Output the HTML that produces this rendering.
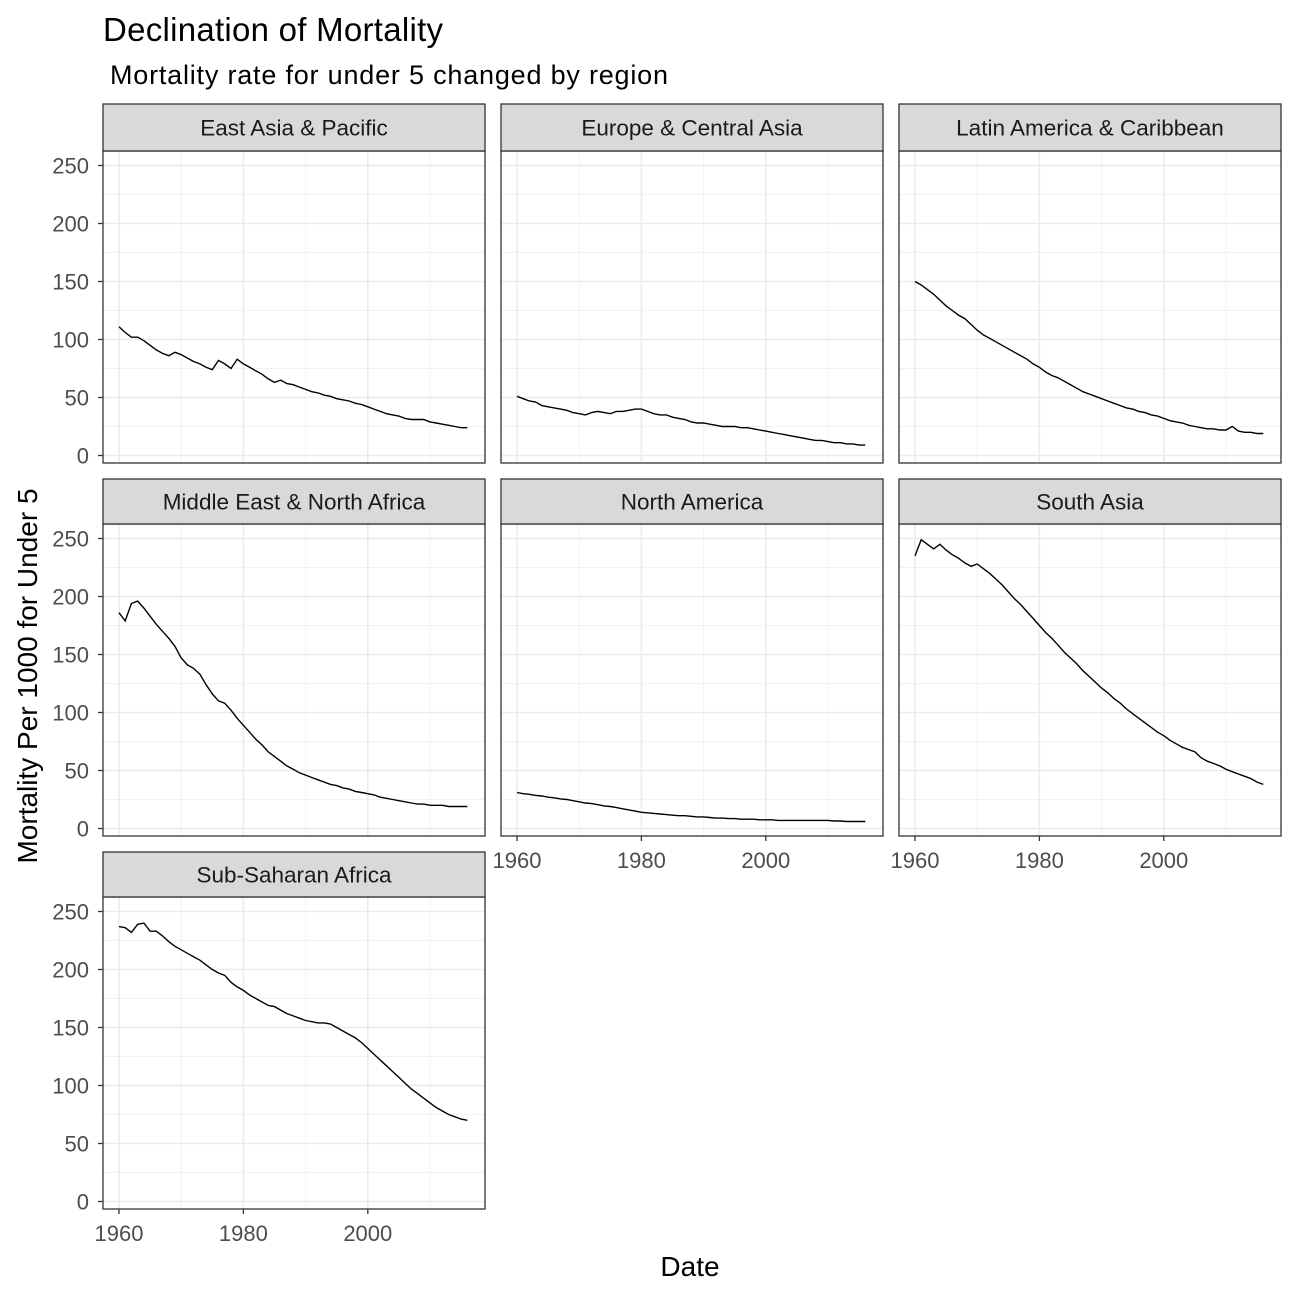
<!DOCTYPE html>
<html><head><meta charset="utf-8"><style>
body{margin:0;background:#fff;}
svg{display:block;font-family:"Liberation Sans",Arial,sans-serif;}
</style></head><body>
<svg id="chart" width="1296" height="1296" viewBox="0 0 1296 1296">
<rect width="1296" height="1296" fill="#fff"/>
<text x="103" y="41" font-size="33" textLength="340" fill="#000">Declination of Mortality</text>
<text x="110" y="84" font-size="27" textLength="558" fill="#000">Mortality rate for under 5 changed by region</text>
<text x="690" y="1276" font-size="28" text-anchor="middle" fill="#000">Date</text>
<text transform="translate(37,676) rotate(-90)" font-size="28" text-anchor="middle" fill="#000">Mortality Per 1000 for Under 5</text>
<g id="panels"></g>
</svg>
<script>
const regions = ["East Asia & Pacific","Europe & Central Asia","Latin America & Caribbean","Middle East & North Africa","North America","South Asia","Sub-Saharan Africa"];
const startYear = 1960;
const yTicks = [0,50,100,150,200,250];
const xTicks = [1960,1980,2000];
const eastAsia = [111,106,102,102,99,95,91,88,86,89,87,84,81,79,76,74,82,79,75,83,79,76,73,70,66,63,65,62,61,59,57,55,54,52,51,49,48,47,45,44,42,40,38,36,35,34,32,31,31,31,29,28,27,26,25,24,24];
const europe = [51,49,47,46,43,42,41,40,39,37,36,35,37,38,37,36,38,38,39,40,40,38,36,35,35,33,32,31,29,28,28,27,26,25,25,25,24,24,23,22,21,20,19,18,17,16,15,14,13,13,12,11,11,10,10,9,9];
const latin = [150,147,143,139,134,129,125,121,118,113,108,104,101,98,95,92,89,86,83,79,76,72,69,67,64,61,58,55,53,51,49,47,45,43,41,40,38,37,35,34,32,30,29,28,26,25,24,23,23,22,22,25,21,20,20,19,19];
const mena = [186,179,194,196,190,183,176,170,164,157,147,141,138,133,124,116,110,108,102,95,89,83,77,72,66,62,58,54,51,48,46,44,42,40,38,37,35,34,32,31,30,29,27,26,25,24,23,22,21,21,20,20,20,19,19,19,19];
const northAmerica = [31,30,29.5,28.5,28,27,26.5,25.5,25,24,23,22,21.5,20.5,19.5,19,18,17,16,15,14,13.5,13,12.5,12,11.5,11,11,10.5,10,10,9.5,9,9,8.5,8.5,8,8,8,7.5,7.5,7.5,7,7,7,7,7,7,7,7,7,6.5,6.5,6,6,6,6];
const southAsia = [235,249,245,241,245,240,236,233,229,226,228,224,220,215,210,204,198,193,187,181,175,169,164,158,152,147,142,136,131,126,121,117,112,108,103,99,95,91,87,83,80,76,73,70,68,66,61,58,56,54,51,49,47,45,43,40,38];
const ssa = [237,236,232,239,240,233,233,229,224,220,217,214,211,208,204,200,197,195,189,185,182,178,175,172,169,168,165,162,160,158,156,155,154,154,153,150,147,144,141,137,132,127,122,117,112,107,102,97,93,89,85,81,78,75,73,71,70];
const series = [eastAsia,europe,latin,mena,northAmerica,southAsia,ssa];

const NS="http://www.w3.org/2000/svg";
const root=document.getElementById('panels');
const colX=[103,501,899], pw=382;
const rows=[{st:104,pt:151,pb:463},{st:479,pt:524,pb:836},{st:852,pt:897,pb:1209}];
function mk(tag,attrs,parent){const e=document.createElementNS(NS,tag);for(const k in attrs)e.setAttribute(k,attrs[k]);(parent||root).appendChild(e);return e;}
function slug(s){return s.toLowerCase().replace(/&/g,'and').replace(/[^a-z0-9]+/g,'-');}

regions.forEach((name,i)=>{
  const c=i%3, r=Math.floor(i/3);
  const x0=colX[c], row=rows[r];
  const xs=yr=>x0+16+(yr-1960)*6.22;
  const zeroY=row.pb-7.5;
  const ys=v=>zeroY-v*1.16;
  const g=mk('g',{});
  
  
  mk('rect',{x:x0,y:row.pt,width:pw,height:row.pb-row.pt,fill:'#fff'},g);
  for(let v=25;v<=275;v+=50){const y=ys(v);if(y>row.pt)mk('line',{x1:x0,x2:x0+pw,y1:y,y2:y,stroke:'#f2f2f2','stroke-width':0.9},g);}
  [1970,1990,2010].forEach(t=>mk('line',{x1:xs(t),x2:xs(t),y1:row.pt,y2:row.pb,stroke:'#f2f2f2','stroke-width':0.9},g));
  yTicks.forEach(v=>mk('line',{x1:x0,x2:x0+pw,y1:ys(v),y2:ys(v),stroke:'#ebebeb','stroke-width':1.6},g));
  xTicks.forEach(t=>mk('line',{x1:xs(t),x2:xs(t),y1:row.pt,y2:row.pb,stroke:'#ebebeb','stroke-width':1.6},g));
  const d=series[i].map((v,k)=>(k?'L':'M')+xs(startYear+k).toFixed(1)+','+ys(v).toFixed(1)).join('');
  const p=mk('path',{d:d,fill:'none',stroke:'#000','stroke-width':1.4},g);
  
  
  mk('rect',{x:x0,y:row.pt,width:pw,height:row.pb-row.pt,fill:'none',stroke:'#333','stroke-width':1.3},g);
  mk('rect',{x:x0,y:row.st,width:pw,height:row.pt-row.st,fill:'#d9d9d9',stroke:'#333','stroke-width':1.3},g);
  const st=mk('text',{x:x0+pw/2,y:(row.st+row.pt)/2+8,'font-size':22.5,'text-anchor':'middle',fill:'#1a1a1a'},g);
  st.textContent=name;
  
  
  if(c===0){
    yTicks.forEach(v=>{
      mk('line',{x1:x0-5,x2:x0,y1:ys(v),y2:ys(v),stroke:'#333','stroke-width':1.3},g);
      const t=mk('text',{x:x0-14,y:ys(v)+8,'font-size':22,'text-anchor':'end',fill:'#4d4d4d'},g);
      t.textContent=v;
      
      
    });
  }
  if(i>=4){
    xTicks.forEach(v=>{
      mk('line',{x1:xs(v),x2:xs(v),y1:row.pb,y2:row.pb+5,stroke:'#333','stroke-width':1.3},g);
      const t=mk('text',{x:xs(v),y:row.pb+32,'font-size':22,'text-anchor':'middle',fill:'#4d4d4d'},g);
      t.textContent=v;
      
      
    });
  }
});
</script>
</body></html>
